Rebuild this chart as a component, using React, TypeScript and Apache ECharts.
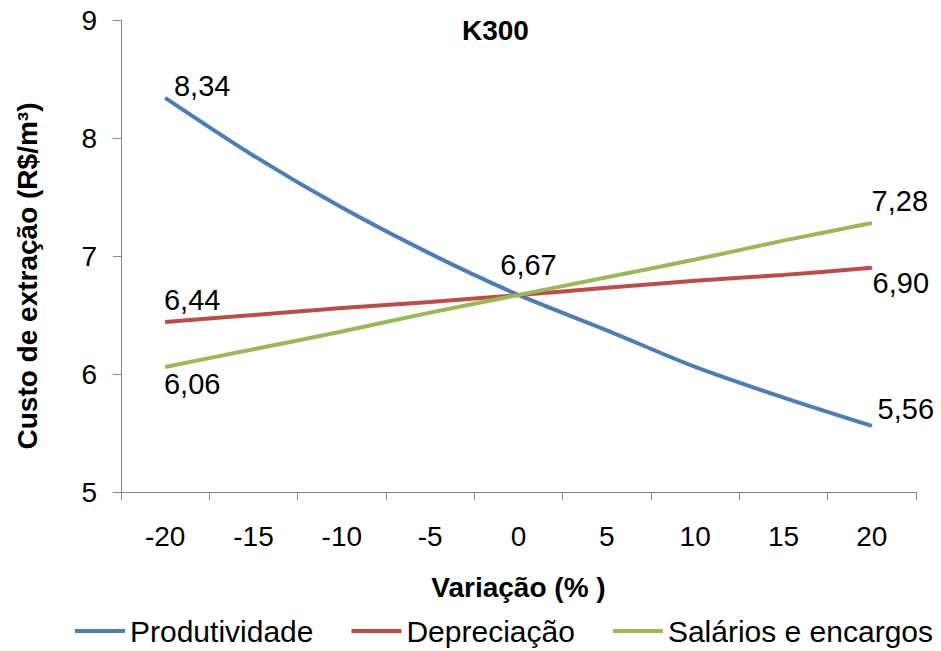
import React, { useEffect, useRef } from "react";
import * as echarts from "echarts";

const categories = ["-20", "-15", "-10", "-5", "0", "5", "10", "15", "20"];
const produtividade = [8.34, 7.85, 7.41, 7.02, 6.67, 6.37, 6.06, 5.8, 5.56];
const depreciacao = [6.44, 6.5, 6.56, 6.61, 6.67, 6.73, 6.79, 6.84, 6.9];
const salarios = [6.06, 6.21, 6.36, 6.52, 6.67, 6.82, 6.97, 7.13, 7.28];
const yTicks = [5, 6, 7, 8, 9];

// label offsets for the labelled points: [index, dx, dy]
const prodLabels: [number, number, number][] = [[0, 37, -12], [4, 10, -30], [8, 34, -17]];
const deprLabels: [number, number, number][] = [[0, 27, -22], [8, 29, 15]];
const salLabels: [number, number, number][] = [[0, 27, 17], [8, 28, -22]];

const FONT = "'Liberation Sans', Arial, sans-serif";

function buildData(values: number[], labels: [number, number, number][]) {
  return values.map((v, i) => {
    const l = labels.find((x) => x[0] === i);
    if (!l) return v;
    return {
      value: v,
      label: {
        show: true,
        position: "inside",
        offset: [l[1], l[2]],
        formatter: () => v.toFixed(2).replace(".", ","),
        color: "#000",
        fontSize: 29,
        fontFamily: FONT,
      },
    };
  });
}

export default function App() {
  const ref = useRef<HTMLDivElement>(null);
  useEffect(() => {
    if (!ref.current) return;
    const chart = echarts.init(ref.current, undefined, { renderer: "svg" });
    const mkSeries = (name: string, color: string, data: any[]) => ({
      name,
      type: "line",
      data,
      smooth: 0.3,
      symbol: "circle",
      symbolSize: 1,
      showSymbol: true,
      itemStyle: { color },
      lineStyle: { color, width: 4 },
      label: { show: false },
      emphasis: { disabled: true },
    });
    chart.setOption({
      animation: false,
      backgroundColor: "#fff",
      title: {
        text: "K300",
        left: 457,
        top: 11,
        textStyle: { fontSize: 28, fontWeight: "bold", color: "#000", fontFamily: FONT },
      },
      legend: {
        left: 75,
        top: 616,
        padding: 0,
        icon: "rect",
        itemWidth: 50,
        itemHeight: 4,
        itemGap: 38,
        textStyle: { fontSize: 30, color: "#000", fontFamily: FONT },
        data: ["Produtividade", "Depreciação", "Salários e encargos"],
      },
      grid: { left: 121, right: 25, top: 20, bottom: 159, containLabel: false },
      xAxis: {
        type: "category",
        data: categories,
        boundaryGap: true,
        name: "Variação (% )",
        nameLocation: "middle",
        nameGap: 81,
        nameTextStyle: { fontSize: 28, fontWeight: "bold", color: "#000", fontFamily: FONT },
        axisLine: { lineStyle: { color: "#868686", width: 1 } },
        axisTick: { show: true, length: 8, lineStyle: { color: "#868686" } },
        axisLabel: { margin: 30, fontSize: 28, color: "#000", fontFamily: FONT },
        splitLine: { show: false },
      },
      yAxis: {
        type: "value",
        min: yTicks[0],
        max: yTicks[yTicks.length - 1],
        interval: 1,
        name: "Custo de extração (R$/m³)",
        nameLocation: "middle",
        nameGap: 80,
        nameTextStyle: {
          fontSize: 28,
          fontWeight: "bold",
          color: "#000",
          fontFamily: FONT,
          padding: [0, 40, 0, 0],
        },
        axisLine: { show: true, lineStyle: { color: "#868686", width: 1 } },
        axisTick: { show: true, length: 8, lineStyle: { color: "#868686" } },
        axisLabel: { margin: 24, fontSize: 28, color: "#000", fontFamily: FONT },
        splitLine: { show: false },
      },
      series: [
        mkSeries("Produtividade", "#4A7EBB", buildData(produtividade, prodLabels)),
        mkSeries("Depreciação", "#BE4B48", buildData(depreciacao, deprLabels)),
        mkSeries("Salários e encargos", "#98B954", buildData(salarios, salLabels)),
      ],
    });
    return () => chart.dispose();
  }, []);
  return <div ref={ref} style={{ width: 941, height: 651, position: "absolute", left: 0, top: 0 }} />;
}
